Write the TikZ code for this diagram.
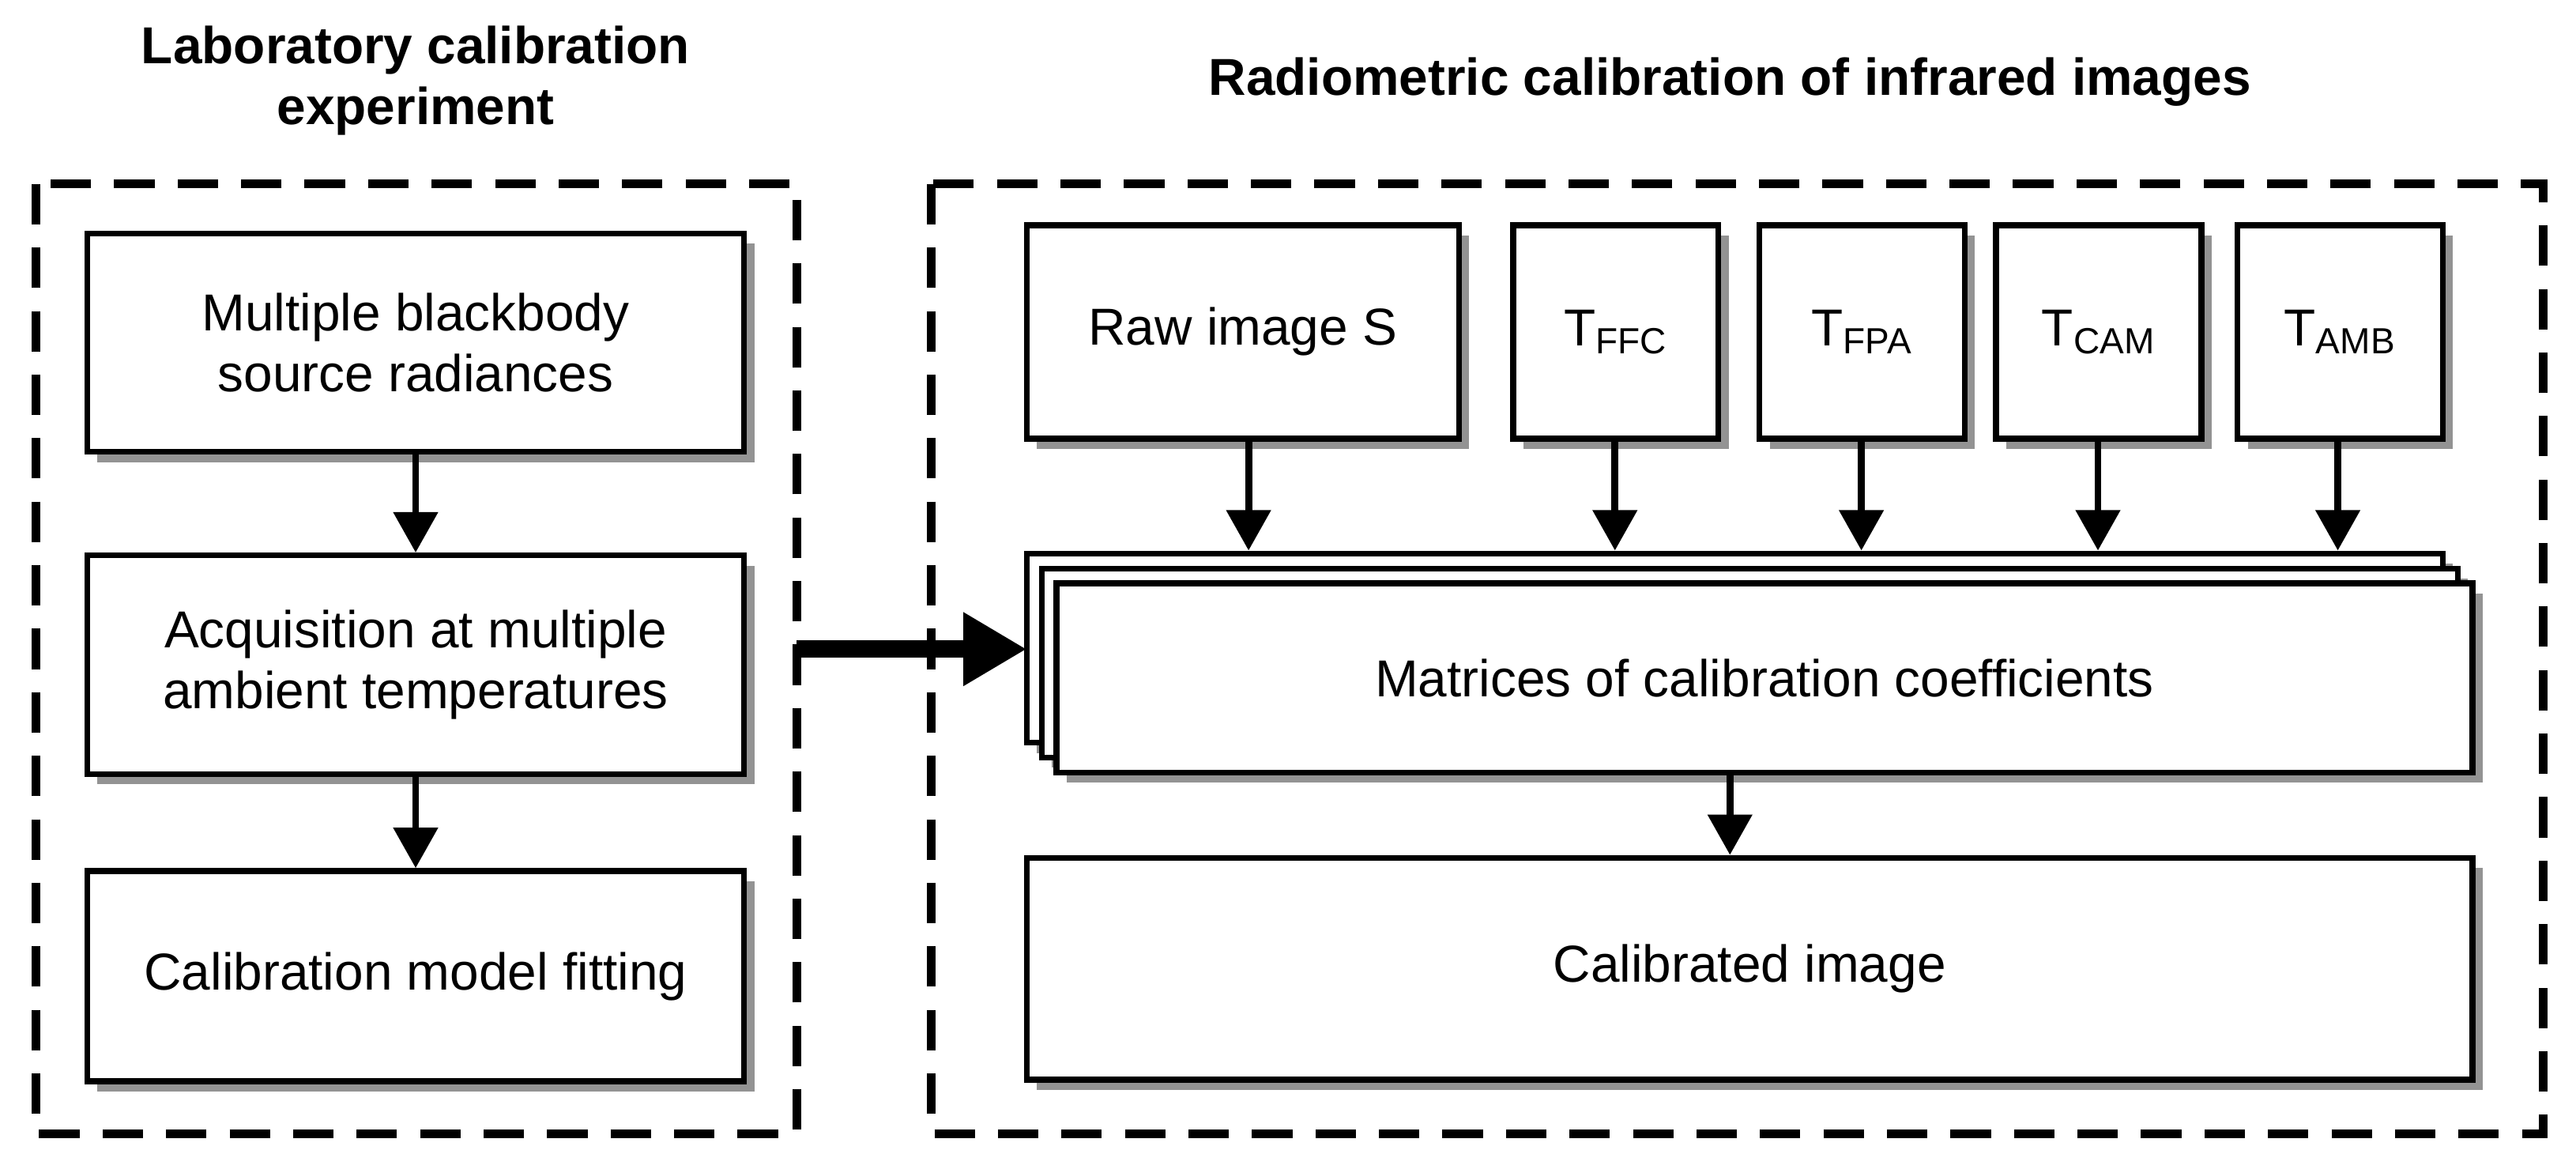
\documentclass[tikz,border=0pt]{standalone}
\usepackage{fontspec}
\setmainfont{Liberation Sans}
\usetikzlibrary{shadows,arrows.meta}
\begin{document}
\begin{tikzpicture}[x=0.02cm,y=-0.02cm,
 box/.style={draw,line width=2pt,fill=white,drop shadow={shadow xshift=3.5pt,shadow yshift=-3.5pt,opacity=0.85},align=center,font=\fontsize{18}{21}\selectfont},
 frame/.style={line width=3pt,dash pattern=on 14pt off 8pt},
 arr/.style={line width=2.4pt,-{Triangle[length=14pt,width=15pt]}},
 ttl/.style={font=\bfseries\fontsize{18}{21}\selectfont,align=center}]
\useasboundingbox (0,0) rectangle (1568,711);
\draw[frame] (22,112) rectangle (485,690);
\draw[frame] (567,112) rectangle (1548,690);
\node[ttl] (t1) at (253,49) {Laboratory calibration\\experiment};
\node[ttl] (t2) at (1053,50) {Radiometric calibration of infrared images};
\node[box,minimum width=400*0.02cm,minimum height=133*0.02cm] (b1) at (253,208.5) {Multiple blackbody\\source radiances};
\node[box,minimum width=400*0.02cm,minimum height=133*0.02cm] (b2) at (253,404.5) {Acquisition at multiple\\ambient temperatures};
\node[box,minimum width=400*0.02cm,minimum height=128*0.02cm] (b3) at (253,594) {Calibration model fitting};
\draw[arr] (b1) -- (b2);
\draw[arr] (b2) -- (b3);
\node[box,minimum width=263*0.02cm,minimum height=130*0.02cm] (raw) at (756.5,202) {Raw image S};
\node[box,minimum width=125*0.02cm,minimum height=130*0.02cm] (ffc) at (983.5,202) {T\textsubscript{FFC}};
\node[box,minimum width=125*0.02cm,minimum height=130*0.02cm] (fpa) at (1133.5,202) {T\textsubscript{FPA}};
\node[box,minimum width=125*0.02cm,minimum height=130*0.02cm] (cam) at (1277.5,202) {T\textsubscript{CAM}};
\node[box,minimum width=125*0.02cm,minimum height=130*0.02cm] (amb) at (1424.5,202) {T\textsubscript{AMB}};
\node[box,minimum width=862*0.02cm,minimum height=115*0.02cm] (m3) at (1056,394.5) {};
\node[box,minimum width=862*0.02cm,minimum height=115*0.02cm] (m2) at (1065,403.5) {};
\node[box,minimum width=862*0.02cm,minimum height=115*0.02cm] (m1) at (1074,412.5) {Matrices of calibration coefficients};
\coordinate (a1) at (760,335);
\coordinate (a2) at (983,335);
\coordinate (a3) at (1133,335);
\coordinate (a4) at (1277,335);
\coordinate (a5) at (1423,335);
\draw[arr] (raw.south -| a1) -- (a1);
\draw[arr] (ffc.south -| a2) -- (a2);
\draw[arr] (fpa.south -| a3) -- (a3);
\draw[arr] (cam.south -| a4) -- (a4);
\draw[arr] (amb.south -| a5) -- (a5);
\node[box,minimum width=880*0.02cm,minimum height=135*0.02cm] (cal) at (1065,589.5) {Calibrated image};
\coordinate (c1) at (1053,470);
\draw[arr] (c1) -- (cal.north -| c1);
\coordinate (s) at (485,395);
\coordinate (e) at (625,395);
\draw[line width=6pt,-{Triangle[length=22pt,width=24pt]}] (s) -- (e);
\end{tikzpicture}
\end{document}
